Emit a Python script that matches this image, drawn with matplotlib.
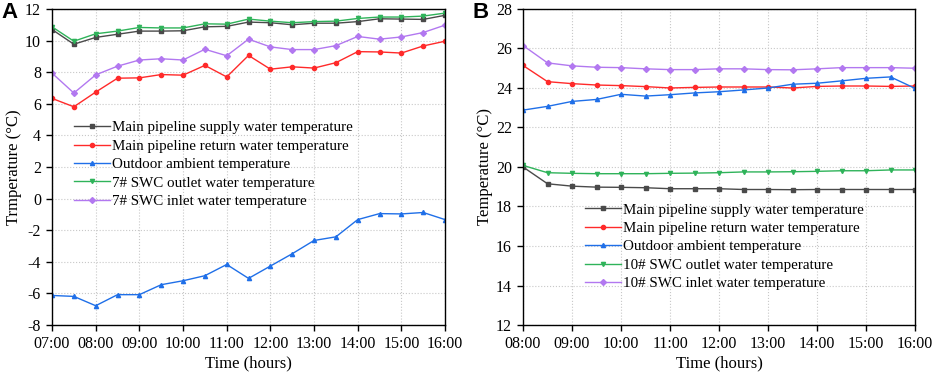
import matplotlib.pyplot as plt

plt.rcParams['font.family'] = 'Liberation Serif'
plt.rcParams['font.size'] = 10.5
plt.rcParams['axes.unicode_minus'] = False

# Panel A: 07:00-16:00, every half hour
horas_a = [7 + 0.5 * i for i in range(19)]
supply_a = [10.7, 9.77, 10.2, 10.4, 10.6, 10.6, 10.62, 10.87, 10.9, 11.17, 11.13,
            11.0, 11.1, 11.1, 11.2, 11.38, 11.36, 11.34, 11.6]
return_a = [6.34, 5.81, 6.74, 7.62, 7.64, 7.85, 7.81, 8.43, 7.7, 9.06, 8.19,
            8.34, 8.26, 8.6, 9.3, 9.28, 9.21, 9.66, 9.96]
outdoor_a = [-6.13, -6.19, -6.78, -6.08, -6.08, -5.45, -5.2, -4.88, -4.17, -5.05, -4.27,
             -3.49, -2.65, -2.42, -1.33, -0.95, -0.97, -0.88, -1.33]
outlet_a = [10.87, 9.96, 10.43, 10.6, 10.83, 10.8, 10.8, 11.06, 11.04, 11.36, 11.23,
            11.13, 11.2, 11.23, 11.4, 11.49, 11.49, 11.55, 11.74]
inlet_a = [7.94, 6.68, 7.83, 8.38, 8.77, 8.85, 8.77, 9.45, 9.04, 10.09, 9.6,
           9.43, 9.43, 9.68, 10.26, 10.09, 10.23, 10.51, 10.98]

# Panel B: 08:00-16:00, every half hour
horas_b = [8 + 0.5 * i for i in range(17)]
supply_b = [20.0, 19.15, 19.03, 18.98, 18.97, 18.95, 18.9, 18.9, 18.9, 18.86, 18.86,
            18.85, 18.86, 18.86, 18.86, 18.86, 18.86]
return_b = [25.14, 24.32, 24.22, 24.15, 24.12, 24.07, 24.0, 24.03, 24.05, 24.05, 24.05,
            24.0, 24.08, 24.1, 24.1, 24.08, 24.1]
outdoor_b = [22.88, 23.07, 23.32, 23.42, 23.68, 23.59, 23.66, 23.75, 23.81, 23.9, 24.0,
             24.19, 24.24, 24.36, 24.49, 24.56, 23.98]
outlet_b = [20.08, 19.71, 19.68, 19.66, 19.66, 19.66, 19.68, 19.69, 19.71, 19.75, 19.75,
            19.76, 19.78, 19.81, 19.81, 19.85, 19.85]
inlet_b = [26.15, 25.27, 25.12, 25.05, 25.03, 24.97, 24.93, 24.93, 24.97, 24.97, 24.93,
           24.92, 24.97, 25.03, 25.03, 25.03, 25.0]

cores = ['#4a4a4a', '#ff2a2a', '#1f6fe8', '#2fb35a', '#b278f0']
marcadores = ['s', 'o', '^', 'v', 'D']


def painel(ax, horas, series, nomes, ylim, yticks, ylabel, xticks, letra, leg_pos):
    for s, nome, c, m in zip(series, nomes, cores, marcadores):
        ax.plot(horas, s, color=c, marker=m, markersize=3, linewidth=1, label=nome)
    ax.set_xlim(xticks[0], xticks[-1])
    ax.set_ylim(*ylim)
    ax.set_yticks(yticks)
    ax.set_xticks(xticks)
    ax.set_xticklabels(['%02d:00' % h for h in xticks])
    ax.grid(True, linestyle=':', color='#c8c8c8', linewidth=0.8)
    ax.set_xlabel('Time (hours)', fontsize=12, labelpad=2)
    ax.set_ylabel(ylabel, fontsize=12, labelpad=2)
    ax.tick_params(direction='out', length=4, width=1, labelsize=11.5, pad=4)
    for sp in ax.spines.values():
        sp.set_linewidth(1)
    ax.legend(loc='upper left', bbox_to_anchor=leg_pos, frameon=False, fontsize=10.8,
              handlelength=2.4, handletextpad=0.15, labelspacing=0.33, borderpad=0,
              borderaxespad=0)
    ax.text(-0.128, 0.99, letra, transform=ax.transAxes, fontsize=16, fontweight='bold',
            family='Liberation Sans', va='center', ha='left')


fig = plt.figure(figsize=(9.34, 3.74), dpi=100)
ax1 = fig.add_axes([0.0557, 0.131, 0.4208, 0.845])
ax2 = fig.add_axes([0.56, 0.131, 0.4197, 0.845])

nomes_a = ['Main pipeline supply water temperature', 'Main pipeline return water temperature',
           'Outdoor ambient temperature', '7# SWC outlet water temperature',
           '7# SWC inlet water temperature']
nomes_b = ['Main pipeline supply water temperature', 'Main pipeline return water temperature',
           'Outdoor ambient temperature', '10# SWC outlet water temperature',
           '10# SWC inlet water temperature']

painel(ax1, horas_a, [supply_a, return_a, outdoor_a, outlet_a, inlet_a], nomes_a,
       (-8, 12), range(-8, 13, 2), 'Trmperature (°C)', list(range(7, 17)), 'A', (0.056, 0.646))
painel(ax2, horas_b, [supply_b, return_b, outdoor_b, outlet_b, inlet_b], nomes_b,
       (12, 28), range(12, 29, 2), 'Temperature (°C)', list(range(8, 17)), 'B', (0.158, 0.386))

fig.savefig('out.png', dpi=100)
